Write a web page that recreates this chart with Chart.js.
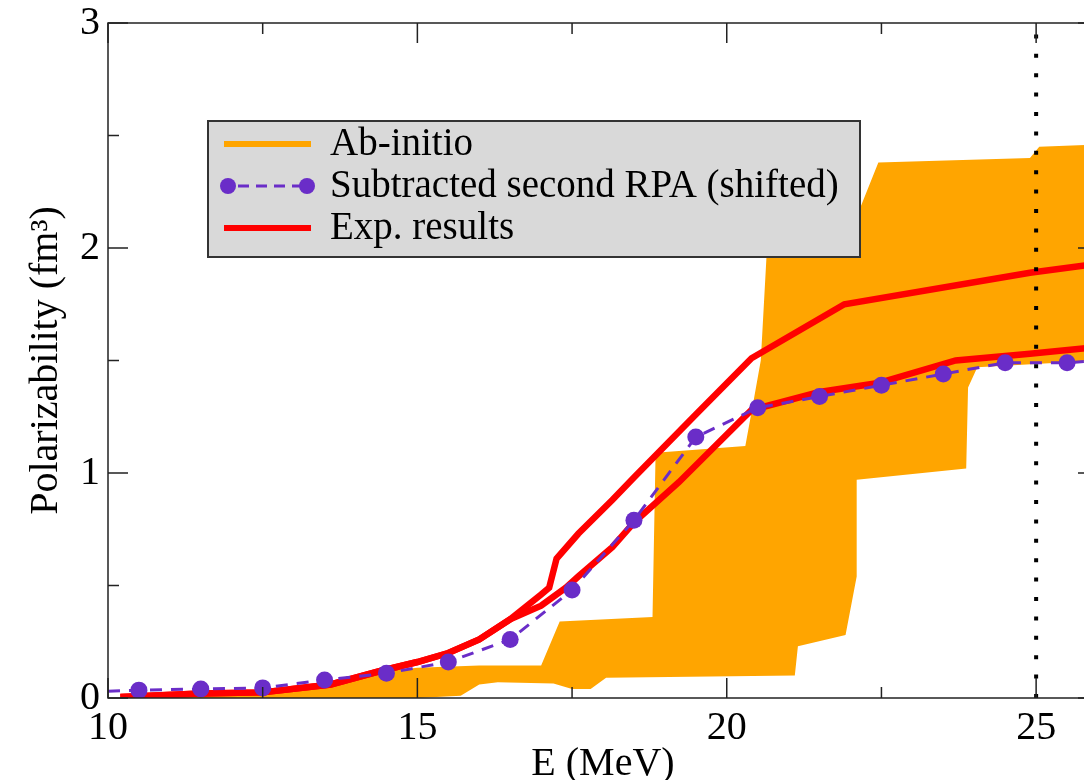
<!DOCTYPE html>
<html>
<head>
<meta charset="utf-8">
<script src="https://cdn.jsdelivr.net/npm/chart.js@4.4.1/dist/chart.umd.min.js"></script>
<style>
  html, body { margin: 0; padding: 0; background: #fff; overflow: hidden; }
  #wrap { width: 1084px; height: 780px; overflow: hidden; position: relative; }
  #polChart { display: block; }
</style>
</head>
<body>
<div id="wrap"><canvas id="polChart" width="1110" height="780"></canvas></div>
<script>
// axis ticks
const xTicks = [10, 15, 20, 25];
const xMinorTicks = [12.5, 17.5, 22.5];
const yTicks = [0, 1, 2, 3];
const yMinorTicks = [0.5, 1.5, 2.5];

const legendNames = ["Ab-initio", "Subtracted second RPA (shifted)", "Exp. results"];

// ab-initio band, upper and lower edge
const abUpperE = [10.2, 12, 13, 13.5, 14, 14.5, 15, 16, 17.0, 17.3, 18.8, 18.85, 20.3, 20.42, 20.55, 20.65, 22.0, 22.13, 22.45, 24.9, 25.05, 26];
const abUpperP = [0.01, 0.015, 0.03, 0.05, 0.09, 0.12, 0.135, 0.145, 0.145, 0.34, 0.36, 1.09, 1.12, 1.3, 1.5, 2.0, 2.1, 2.16, 2.38, 2.40, 2.45, 2.46];
const abLowerE = [10.2, 15.0, 15.7, 16.0, 16.3, 17.2, 17.5, 17.8, 18.05, 21.1, 21.15, 21.92, 22.1, 22.1, 23.87, 23.9, 24.05, 26];
const abLowerP = [0.0, 0.0, 0.01, 0.06, 0.07, 0.065, 0.04, 0.04, 0.09, 0.1, 0.23, 0.28, 0.54, 0.97, 1.02, 1.38, 1.47, 1.5];

// experimental results, two red curves
const expUpperE = [10.2, 11.5, 12.5, 13.6, 14.4, 15, 15.5, 16.0, 16.5, 17.0, 17.13, 17.25, 17.6, 18.15, 18.5, 19.5, 20.4, 21.9, 24.9, 26];
const expUpperP = [0.005, 0.02, 0.025, 0.06, 0.12, 0.16, 0.2, 0.26, 0.35, 0.46, 0.49, 0.62, 0.73, 0.88, 0.98, 1.26, 1.51, 1.75, 1.89, 1.93];
const expLowerE = [10.2, 11.5, 12.5, 13.6, 14.4, 15, 15.5, 16.0, 16.5, 17.0, 17.4, 17.6, 18.15, 18.5, 19.23, 20.4, 21.5, 22.45, 23.7, 24.9, 26];
const expLowerP = [0.005, 0.02, 0.025, 0.06, 0.12, 0.16, 0.2, 0.26, 0.35, 0.41, 0.49, 0.54, 0.67, 0.78, 0.96, 1.28, 1.36, 1.40, 1.50, 1.53, 1.56];

// subtracted second RPA (shifted), markers at the half-MeV points
const rpaE = [10.0, 10.5, 11.5, 12.5, 13.5, 14.5, 15.5, 16.5, 17.5, 18.5, 19.5, 20.5, 21.5, 22.5, 23.5, 24.5, 25.5, 26];
const rpaP = [0.03, 0.035, 0.04, 0.045, 0.08, 0.11, 0.16, 0.26, 0.48, 0.79, 1.16, 1.29, 1.34, 1.39, 1.44, 1.49, 1.49, 1.5];

// vertical dotted marker
const markE = [25, 25];
const markP = [0, 3];

const toPoints = (xs, ys) => xs.map((x, i) => ({ x: x, y: ys[i] }));

const serif = '"Liberation Serif", "Times New Roman", serif';
Chart.defaults.font.family = serif;
Chart.defaults.color = "#000";

const ORANGE = "#ffa500";
const PURPLE = "#6a2dc8";
const RED = "#ff0000";

// frame and inward ticks
const frameTicks = {
  id: "frameTicks",
  afterDatasetsDraw(chart) {
    const { ctx, chartArea: a, scales } = chart;
    const x = scales.x, y = scales.y;
    ctx.save();
    ctx.strokeStyle = "#222";
    ctx.lineWidth = 1.5;
    ctx.strokeRect(a.left, a.top, a.right - a.left, a.bottom - a.top);
    ctx.beginPath();
    const tick = (px, py, dx, dy) => {
      ctx.moveTo(px, py);
      ctx.lineTo(px + dx, py + dy);
    };
    xTicks.forEach(function (v) {
      const px = x.getPixelForValue(v);
      tick(px, a.bottom, 0, -20);
      tick(px, a.top, 0, 20);
    });
    xMinorTicks.forEach(function (v) {
      const px = x.getPixelForValue(v);
      tick(px, a.bottom, 0, -11);
      tick(px, a.top, 0, 11);
    });
    yTicks.forEach(function (v) {
      const py = y.getPixelForValue(v);
      tick(a.left, py, 20, 0);
      tick(a.right, py, -20, 0);
    });
    yMinorTicks.forEach(function (v) {
      const py = y.getPixelForValue(v);
      tick(a.left, py, 11, 0);
      tick(a.right, py, -11, 0);
    });
    ctx.stroke();
    ctx.restore();
  },
};

// grey boxed legend inside the plot
const boxLegend = {
  id: "boxLegend",
  afterDatasetsDraw(chart) {
    const ctx = chart.ctx;
    const left = 208, top = 121, w = 652, h = 136;
    const rows = [144, 186, 228];
    ctx.save();
    ctx.fillStyle = "#d9d9d9";
    ctx.fillRect(left, top, w, h);
    ctx.strokeStyle = "#333";
    ctx.lineWidth = 2;
    ctx.strokeRect(left, top, w, h);

    // Ab-initio
    ctx.lineWidth = 6;
    ctx.strokeStyle = ORANGE;
    ctx.beginPath();
    ctx.moveTo(224, rows[0]);
    ctx.lineTo(311, rows[0]);
    ctx.stroke();

    // RPA
    ctx.lineWidth = 3;
    ctx.strokeStyle = PURPLE;
    ctx.setLineDash([11, 7]);
    ctx.beginPath();
    ctx.moveTo(238, rows[1]);
    ctx.lineTo(300, rows[1]);
    ctx.stroke();
    ctx.setLineDash([]);
    ctx.fillStyle = PURPLE;
    [228, 307].forEach(function (cx) {
      ctx.beginPath();
      ctx.arc(cx, rows[1], 8, 0, Math.PI * 2);
      ctx.fill();
    });

    // Exp
    ctx.lineWidth = 6;
    ctx.strokeStyle = RED;
    ctx.beginPath();
    ctx.moveTo(224, rows[2]);
    ctx.lineTo(311, rows[2]);
    ctx.stroke();

    ctx.fillStyle = "#000";
    ctx.font = "39px " + serif;
    ctx.textBaseline = "middle";
    legendNames.forEach(function (name, i) {
      ctx.fillText(name, 330, rows[i] + 1);
    });
    ctx.restore();
  },
};

const config = {
  type: "line",
  data: {
    datasets: [
      {
        label: "Ab-initio upper",
        data: toPoints(abUpperE, abUpperP),
        borderWidth: 0,
        pointRadius: 0,
        backgroundColor: ORANGE,
        fill: "+1",
        order: 5,
      },
      {
        label: "Ab-initio lower",
        data: toPoints(abLowerE, abLowerP),
        borderWidth: 0,
        pointRadius: 0,
        fill: false,
        order: 5,
      },
      {
        label: "Exp. upper",
        data: toPoints(expUpperE, expUpperP),
        borderColor: RED,
        borderWidth: 6.5,
        pointRadius: 0,
        fill: false,
        order: 3,
      },
      {
        label: "Exp. lower",
        data: toPoints(expLowerE, expLowerP),
        borderColor: RED,
        borderWidth: 6.5,
        pointRadius: 0,
        fill: false,
        order: 3,
      },
      {
        label: "RPA",
        data: toPoints(rpaE, rpaP),
        borderColor: PURPLE,
        borderWidth: 3,
        borderDash: [12, 9],
        backgroundColor: PURPLE,
        pointBackgroundColor: PURPLE,
        pointBorderWidth: 0,
        pointRadius: (c) => (c.raw && c.raw.x % 1 === 0.5 ? 8.5 : 0),
        fill: false,
        order: 2,
      },
      {
        label: "marker",
        data: toPoints(markE, markP),
        borderColor: "#000",
        borderWidth: 4,
        borderDash: [4, 15.4],
        pointRadius: 0,
        fill: false,
        order: 1,
      },
    ],
  },
  options: {
    responsive: false,
    animation: false,
    events: [],
    layout: { padding: { top: 23, right: 12, left: 0, bottom: 0 } },
    plugins: {
      legend: { display: false },
      tooltip: { enabled: false },
    },
    scales: {
      x: {
        type: "linear",
        min: 10,
        max: 26,
        grid: { display: false, drawTicks: false },
        border: { display: false },
        afterBuildTicks: (scale) => {
          scale.ticks = xTicks.map((v) => ({ value: v }));
        },
        afterFit: (scale) => {
          scale.height = 82;
          scale.paddingLeft = 0;
          scale.paddingRight = 0;
        },
        ticks: {
          font: { size: 40 },
          color: "#000",
          padding: 6,
          maxRotation: 0,
          autoSkip: false,
        },
        title: {
          display: true,
          text: "E (MeV)",
          font: { size: 40, lineHeight: 1 },
          color: "#000",
          padding: { top: 0, bottom: -4 },
        },
      },
      y: {
        type: "linear",
        min: 0,
        max: 3,
        grid: { display: false, drawTicks: false },
        border: { display: false },
        afterBuildTicks: (scale) => {
          scale.ticks = yTicks.map((v) => ({ value: v }));
        },
        afterFit: (scale) => {
          scale.width = 108;
          scale.paddingTop = 0;
          scale.paddingBottom = 0;
        },
        ticks: {
          font: { size: 40 },
          color: "#000",
          padding: 8,
        },
        title: {
          display: true,
          text: "Polarizability (fm³)",
          font: { size: 40, lineHeight: 1.2 },
          color: "#000",
          padding: { top: 22, bottom: 0 },
        },
      },
    },
  },
  plugins: [frameTicks, boxLegend],
};

const polChart = new Chart(document.getElementById("polChart"), config);
</script>
</body>
</html>
